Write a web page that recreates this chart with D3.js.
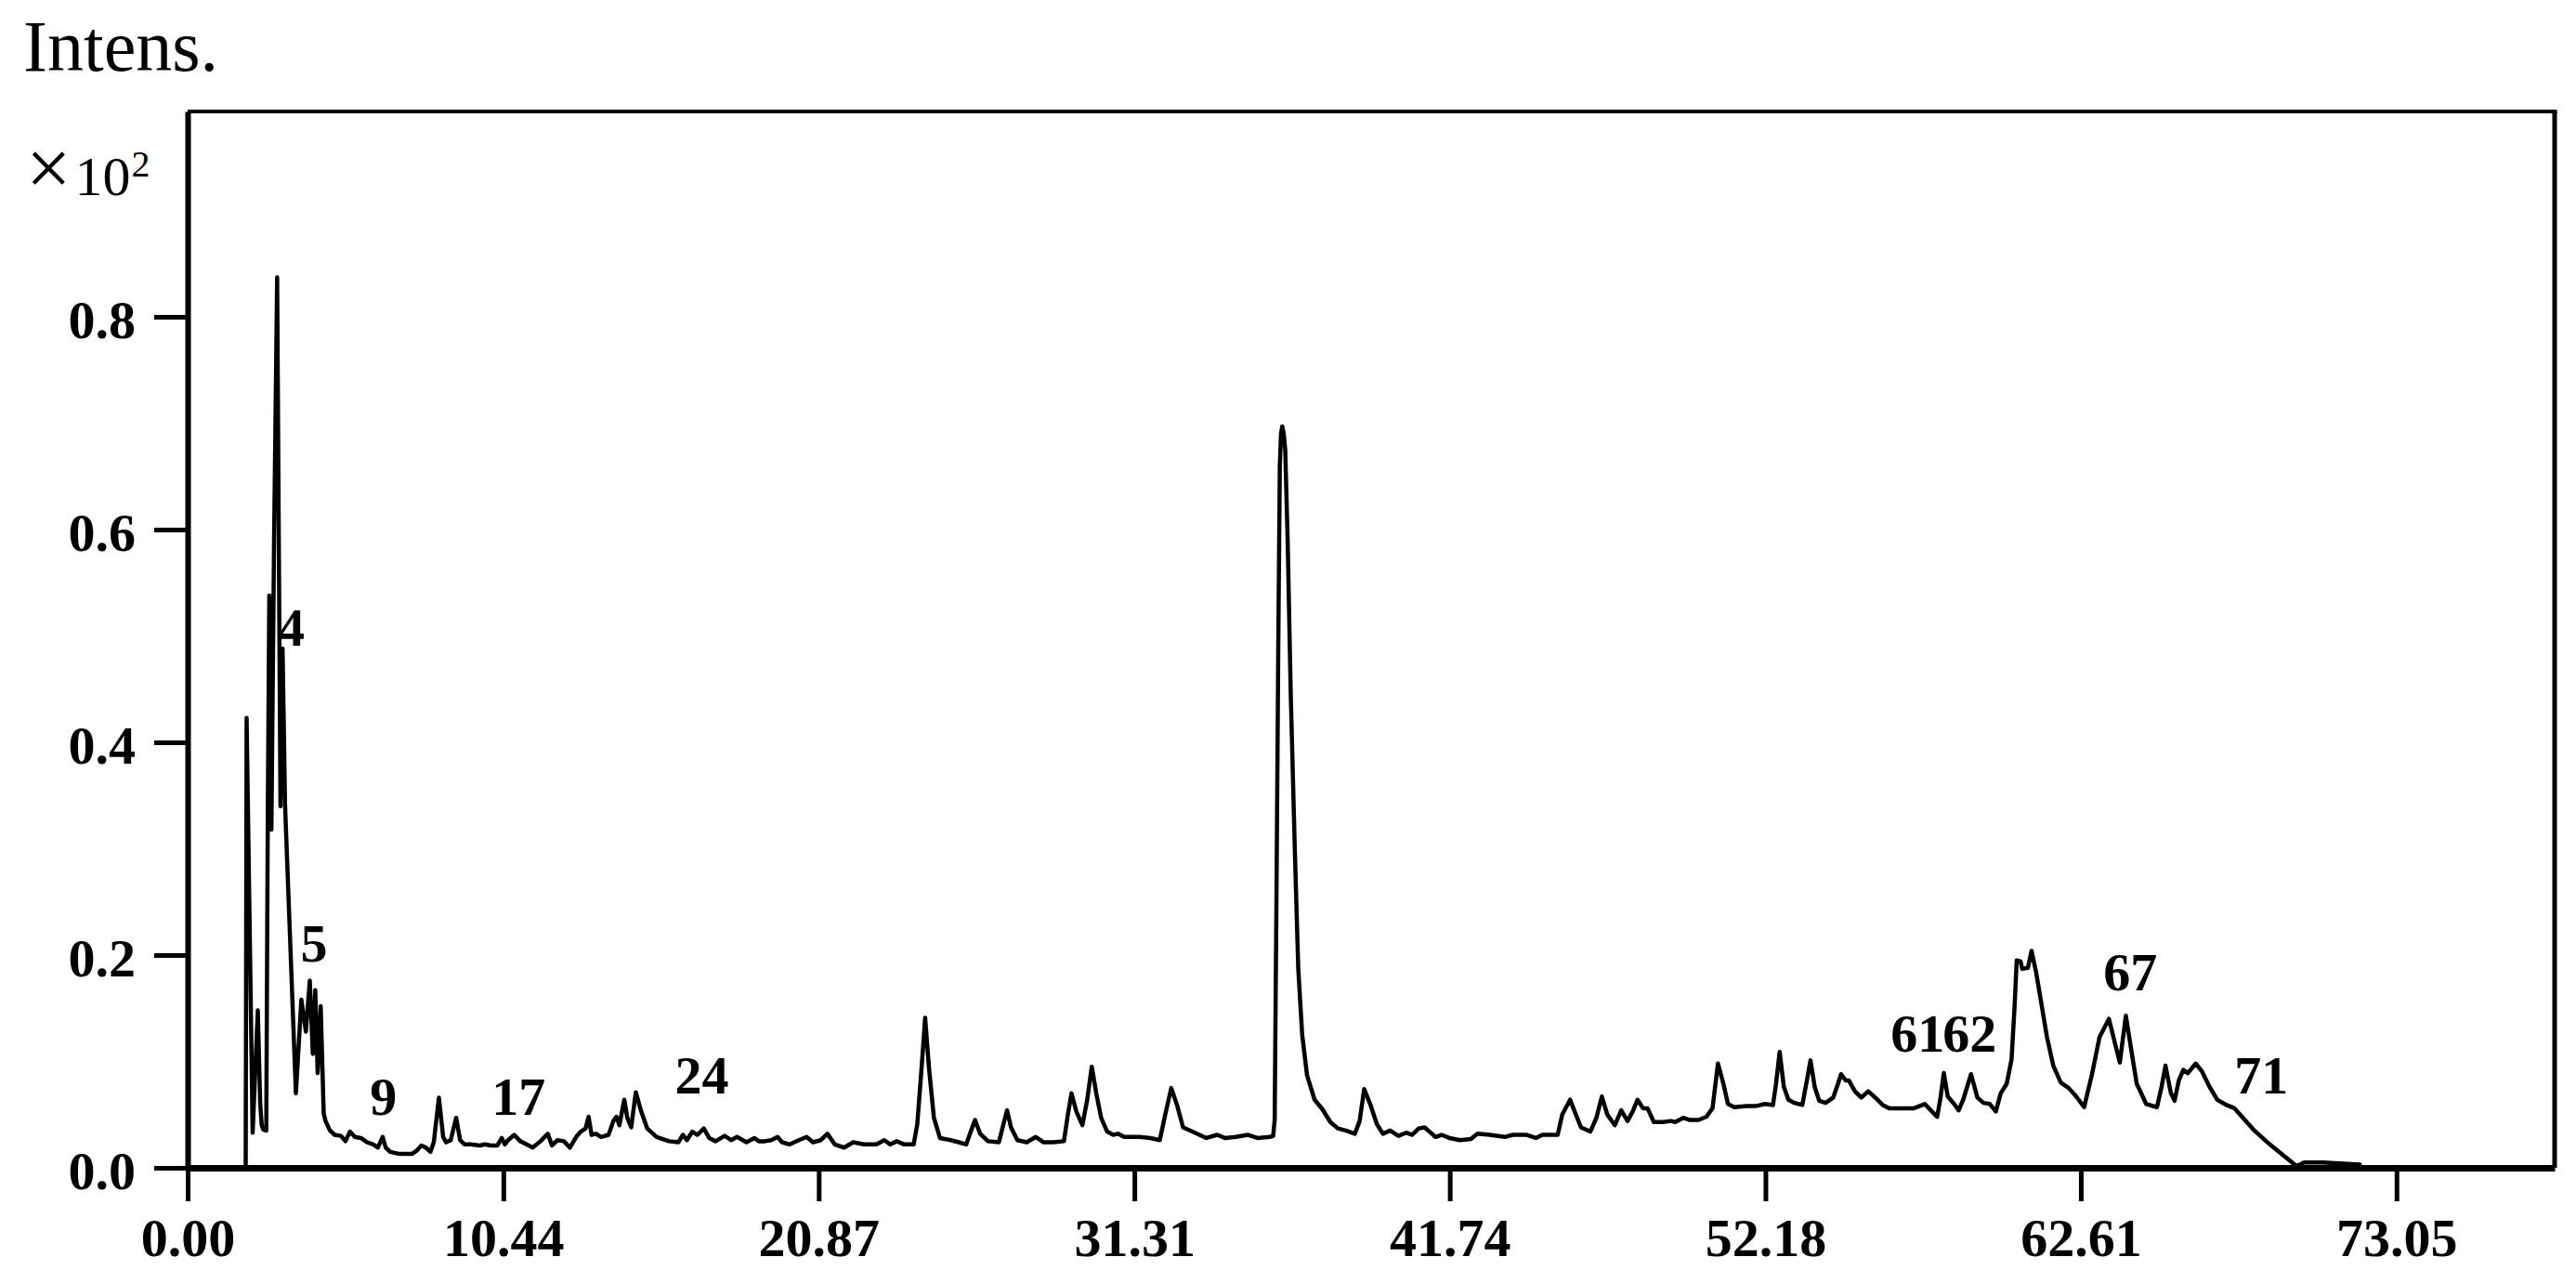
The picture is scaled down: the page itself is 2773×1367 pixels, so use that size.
<!DOCTYPE html>
<html>
<head>
<meta charset="utf-8">
<script src="https://cdn.jsdelivr.net/npm/d3@7"></script>
<style>
  html, body { margin: 0; padding: 0; background: #fff; }
  svg { display: block; }
  text { font-family: "Liberation Serif", "Times New Roman", serif; fill: #000; }
</style>
</head>
<body>
<svg id="chart" width="2773" height="1367"></svg>
<script>
// ---- data (retention time in min, intensity in x10^2) ----
const retentionTime = [
  0, 1.92, 1.95, 2.15, 2.32, 2.40, 2.45, 2.50, 2.60, 2.65, 2.70, 2.77, 2.86, 2.96, 3.07, 3.14, 3.22, 3.58,
  3.76, 3.91, 4.04, 4.14, 4.22, 4.30, 4.40, 4.50,
  4.56, 4.71, 4.86, 5.07, 5.22, 5.37, 5.53, 5.73, 5.94, 6.14, 6.29, 6.45, 6.55, 6.70, 7.01, 7.42, 7.57, 7.73, 7.88, 8.03,
  8.14, 8.31, 8.45, 8.55, 8.70, 8.88, 9.01, 9.16, 9.37, 9.67, 9.83, 10.03, 10.24, 10.39, 10.49, 10.60, 10.80, 11.00,
  11.21, 11.41, 11.67, 11.91, 12.05, 12.23, 12.44, 12.64, 12.85, 13.00, 13.16, 13.26, 13.36, 13.51, 13.67, 13.92,
  14.08, 14.18, 14.28, 14.44, 14.54, 14.67, 14.82, 15.00, 15.20, 15.51, 15.92, 16.23, 16.38, 16.51, 16.69, 16.86,
  17.07, 17.25, 17.46, 17.76, 17.97, 18.17, 18.48, 18.74, 18.89, 19.09, 19.30, 19.51, 19.66, 19.91,
  20.21, 20.47, 20.68, 20.94, 21.16, 21.40, 21.71, 22.01, 22.37, 22.78, 23.04, 23.24, 23.45, 23.70, 24.01,
  24.13, 24.27, 24.39, 24.52, 24.68, 24.88, 25.24, 25.50, 25.75, 25.91, 26.04, 26.21, 26.47, 26.83, 26.98,
  27.10, 27.23, 27.44, 27.75, 28.05, 28.31, 28.62, 28.98, 29.11, 29.23, 29.39, 29.59, 29.75, 29.90, 30.05,
  30.21, 30.41, 30.61, 30.77, 30.97, 31.49, 31.84, 32.15, 32.33, 32.53, 32.72, 32.92, 33.23, 33.69, 34.05,
  34.30, 34.66, 35.07, 35.38, 35.79,
  35.90, 35.95, 36.01, 36.07, 36.12, 36.16, 36.20, 36.25, 36.30, 36.38, 36.48, 36.61, 36.73, 36.86, 37.02, 37.27, 37.53,
  37.79, 38.04, 38.30, 38.60, 38.76, 38.91, 39.12, 39.33, 39.53, 39.77, 40.04, 40.30, 40.50, 40.71, 40.91,
  41.07, 41.27, 41.47, 41.73, 42.08, 42.44, 42.65, 43.06, 43.57, 43.82, 44.29, 44.59, 44.80, 45.31, 45.46,
  45.72, 45.87, 46.08, 46.39, 46.59, 46.77, 46.95, 47.20, 47.41, 47.62, 47.79, 47.95, 48.13, 48.28, 48.49,
  48.79, 49.05, 49.20, 49.46, 49.66, 49.97, 50.23, 50.43, 50.61, 50.79, 50.94, 51.15, 51.56, 51.86,
  52.17, 52.43, 52.53, 52.65, 52.79, 52.94, 53.14, 53.40, 53.55, 53.67, 53.81, 53.96, 54.17, 54.42, 54.58,
  54.68, 54.84, 54.94, 55.14, 55.35, 55.58, 55.81, 56.06, 56.27, 56.68, 57.09, 57.45, 57.65, 57.86, 57.96,
  58.08, 58.21, 58.42, 58.57, 58.72, 58.98, 59.19, 59.39, 59.60, 59.80, 59.96, 60.16, 60.32, 60.42, 60.49,
  60.62, 60.67, 60.86, 60.98, 61.13, 61.29, 61.49, 61.70, 61.95, 62.21, 62.46, 62.72, 62.98, 63.23, 63.54,
  63.74, 63.90, 64.10, 64.26, 64.46, 64.77, 65.13, 65.28, 65.41, 65.59, 65.71, 65.85, 66.00, 66.15, 66.41,
  66.61, 66.87, 67.12, 67.43, 67.69, 67.94, 68.35, 68.86, 69.38, 69.68, 69.79, 69.99, 70.61, 71.84
];
const intensity = [
  0, 0, 0.423, 0.033, 0.148, 0.060, 0.040, 0.036, 0.035, 0.330, 0.538, 0.318, 0.595, 0.837, 0.340, 0.488, 0.342, 0.070,
  0.158, 0.128, 0.176, 0.107, 0.167, 0.089, 0.152, 0.051,
  0.044, 0.035, 0.031, 0.030, 0.025, 0.034, 0.029, 0.028, 0.024, 0.022, 0.019, 0.029, 0.019, 0.015, 0.013, 0.013, 0.016, 0.021, 0.019, 0.015,
  0.024, 0.066, 0.029, 0.024, 0.026, 0.047, 0.026, 0.022, 0.022, 0.021, 0.022, 0.021, 0.021, 0.028, 0.022, 0.026, 0.031, 0.025,
  0.022, 0.019, 0.025, 0.032, 0.021, 0.026, 0.025, 0.019, 0.029, 0.034, 0.037, 0.048, 0.031, 0.032, 0.029, 0.031,
  0.044, 0.048, 0.040, 0.064, 0.047, 0.038, 0.071, 0.053, 0.037, 0.029, 0.025, 0.024, 0.031, 0.026, 0.034, 0.031,
  0.037, 0.028, 0.025, 0.030, 0.026, 0.029, 0.024, 0.028, 0.025, 0.025, 0.026, 0.029, 0.024, 0.022,
  0.026, 0.029, 0.024, 0.026, 0.032, 0.022, 0.019, 0.024, 0.022, 0.022, 0.026, 0.022, 0.025, 0.022, 0.022,
  0.041, 0.093, 0.141, 0.093, 0.047, 0.028, 0.026, 0.024, 0.022, 0.035, 0.045, 0.032, 0.025, 0.024, 0.041,
  0.054, 0.038, 0.026, 0.024, 0.029, 0.024, 0.024, 0.025, 0.050, 0.070, 0.053, 0.040, 0.064, 0.095, 0.070,
  0.047, 0.034, 0.031, 0.032, 0.029, 0.029, 0.028, 0.026, 0.050, 0.075, 0.059, 0.038, 0.034, 0.028, 0.031,
  0.028, 0.029, 0.031, 0.028, 0.029,
  0.030, 0.045, 0.258, 0.494, 0.660, 0.690, 0.697, 0.690, 0.674, 0.589, 0.447, 0.305, 0.187, 0.125, 0.087, 0.064, 0.055,
  0.043, 0.037, 0.035, 0.032, 0.044, 0.074, 0.059, 0.041, 0.032, 0.035, 0.030, 0.033, 0.031, 0.037, 0.038,
  0.034, 0.029, 0.031, 0.028, 0.026, 0.027, 0.032, 0.031, 0.029, 0.031, 0.031, 0.028, 0.031, 0.031, 0.050,
  0.064, 0.053, 0.038, 0.034, 0.047, 0.067, 0.050, 0.040, 0.054, 0.044, 0.053, 0.064, 0.056, 0.056, 0.043,
  0.043, 0.044, 0.043, 0.047, 0.045, 0.045, 0.048, 0.056, 0.098, 0.079, 0.060, 0.057, 0.058, 0.058,
  0.060, 0.059, 0.079, 0.109, 0.076, 0.064, 0.061, 0.059, 0.082, 0.101, 0.076, 0.063, 0.061, 0.066, 0.079,
  0.088, 0.082, 0.082, 0.072, 0.066, 0.072, 0.066, 0.059, 0.056, 0.056, 0.056, 0.060, 0.054, 0.048, 0.064,
  0.089, 0.067, 0.060, 0.054, 0.064, 0.088, 0.066, 0.061, 0.060, 0.053, 0.070, 0.079, 0.102, 0.152, 0.195,
  0.194, 0.187, 0.188, 0.204, 0.184, 0.157, 0.123, 0.096, 0.080, 0.075, 0.067, 0.057, 0.088, 0.123, 0.140,
  0.117, 0.099, 0.143, 0.114, 0.079, 0.060, 0.057, 0.076, 0.096, 0.070, 0.063, 0.082, 0.092, 0.089, 0.098,
  0.091, 0.076, 0.064, 0.059, 0.056, 0.048, 0.035, 0.022, 0.010, 0.003, 0.002, 0.005, 0.005, 0.003
];

const xTickLabels = ["0.00", "10.44", "20.87", "31.31", "41.74", "52.18", "62.61", "73.05"];
const yTickLabels = ["0.0", "0.2", "0.4", "0.6", "0.8"];

// peak annotations: label text, anchor time (left edge), anchor intensity (baseline)
const peakLabels = ["4", "5", "9", "17", "24", "61", "62", "67", "71"];
const peakLabelTime = [2.98, 3.73, 6.03, 10.05, 16.11, 56.32, 58.04, 63.36, 67.69];
const peakLabelIntensity = [0.491, 0.194, 0.050, 0.050, 0.070, 0.109, 0.109, 0.167, 0.070];

// ---- layout ----
const svg = d3.select("#chart");
const W = 2773, H = 1367;
svg.append("rect").attr("width", W).attr("height", H).attr("fill", "#fff");

const plotLeft = 202, plotRight = 2750, plotTop = 120, plotBottom = 1257;
const x = d3.scaleLinear().domain([0, 78.28]).range([plotLeft, plotRight]);
const y = d3.scaleLinear().domain([0, 0.993]).range([plotBottom, plotTop]);

const fontStack = '"Liberation Serif", "Times New Roman", serif';

// frame: top and right borders
svg.append("line").attr("x1", plotLeft).attr("x2", plotRight + 2.5)
  .attr("y1", plotTop).attr("y2", plotTop).attr("stroke", "#000").attr("stroke-width", 4);
svg.append("line").attr("x1", plotRight).attr("x2", plotRight)
  .attr("y1", plotTop).attr("y2", plotBottom).attr("stroke", "#000").attr("stroke-width", 5);

// trace
const pts = retentionTime.map((t, i) => [t, intensity[i]]);
const line = d3.line().x(d => x(d[0])).y(d => y(d[1]));
svg.append("path").datum(pts).attr("d", line)
  .attr("fill", "none").attr("stroke", "#000").attr("stroke-width", 4.5)
  .attr("stroke-linejoin", "round").attr("stroke-linecap", "round");

// y axis
const yAxis = d3.axisLeft(y)
  .tickValues(yTickLabels.map(Number))
  .tickFormat((d, i) => yTickLabels[i])
  .tickSize(36).tickSizeOuter(0).tickPadding(20);
const gy = svg.append("g").attr("transform", `translate(${plotLeft},0)`).call(yAxis);
gy.select(".domain").attr("stroke", "#000").attr("stroke-width", 6);
gy.selectAll(".tick line").attr("stroke", "#000").attr("stroke-width", 5);
gy.selectAll(".tick text").attr("font-family", fontStack).attr("font-weight", "bold")
  .attr("font-size", 58).attr("dy", "0.38em").attr("fill", "#000");

// x axis
const xAxis = d3.axisBottom(x)
  .tickValues(xTickLabels.map(Number))
  .tickFormat((d, i) => xTickLabels[i])
  .tickSize(36).tickSizeOuter(0).tickPadding(18);
const gx = svg.append("g").attr("transform", `translate(0,${plotBottom})`).call(xAxis);
gx.select(".domain").attr("stroke", "#000").attr("stroke-width", 7);
gx.selectAll(".tick line").attr("stroke", "#000").attr("stroke-width", 5);
gx.selectAll(".tick text").attr("font-family", fontStack).attr("font-weight", "bold")
  .attr("font-size", 58).attr("fill", "#000");

// peak labels
svg.append("g").selectAll("text").data(peakLabels).join("text")
  .attr("x", (d, i) => x(peakLabelTime[i]))
  .attr("y", (d, i) => y(peakLabelIntensity[i]))
  .attr("font-family", fontStack).attr("font-weight", "bold").attr("font-size", 58)
  .text(d => d);

// axis title and multiplier
svg.append("text").attr("x", 25).attr("y", 76)
  .attr("font-family", fontStack).attr("font-size", 78).text("Intens.");
const mult = svg.append("text").attr("x", 28).attr("y", 210).attr("font-family", fontStack);
mult.append("tspan").attr("font-size", 86).text("\u00D7");
mult.append("tspan").attr("font-size", 60).attr("dx", 4).text("10");
mult.append("tspan").attr("font-size", 40).attr("dy", -20).attr("dx", 1).text("2");
</script>
</body>
</html>
